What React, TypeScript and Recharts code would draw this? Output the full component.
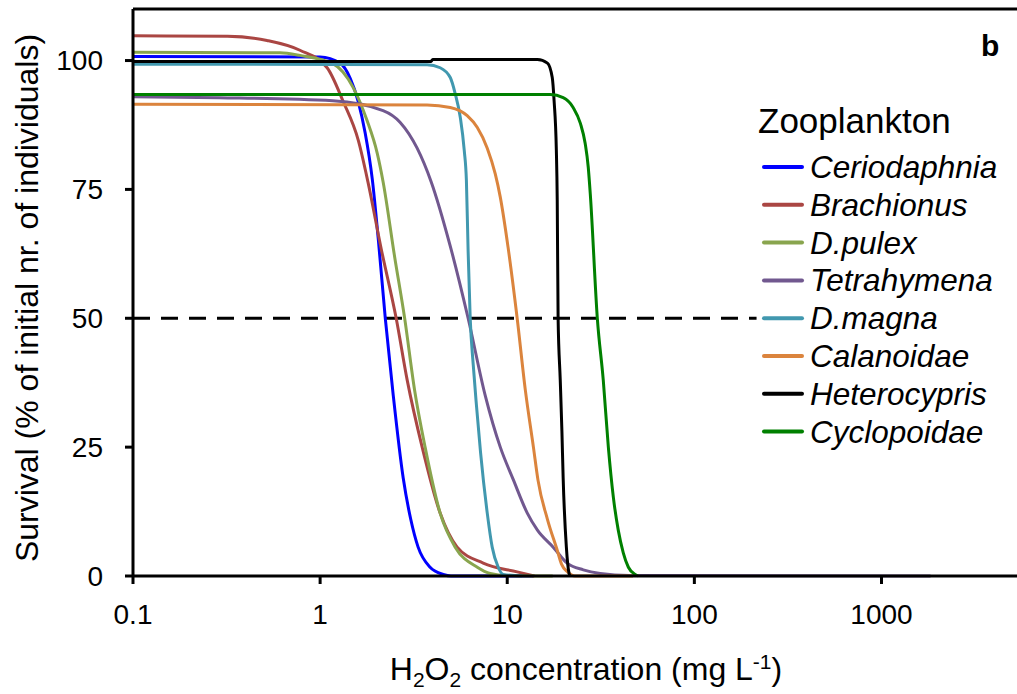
import React from "react";
import {
    LineChart,
    Line,
    XAxis,
    YAxis,
    ReferenceLine,
    Legend,
    Label,
} from "recharts";

const FONT = '"Liberation Sans", Arial, sans-serif';

// survival curves: [H2O2 mg/L, survival %]
const ceriodaphnia = [
    [0.1, 100.8], [1.0, 100.7], [1.28, 99.5], [1.45, 96.5], [1.6, 92],
    [1.74, 86], [1.9, 77], [2.05, 65], [2.23, 50], [2.46, 35], [2.78, 19],
    [3.05, 11], [3.34, 5.6], [3.87, 1.7], [4.55, 0.3], [5.0, 0], [13.8, 0],
];
const brachionus = [
    [0.1, 104.8], [0.32, 104.7], [0.52, 103.9], [0.78, 102], [1.09, 98.6],
    [1.33, 92], [1.6, 84.5], [1.8, 76.5], [2.12, 63.5], [2.55, 50],
    [2.92, 38], [3.51, 25], [4.38, 12.2], [5.4, 5.6], [7.44, 2.5],
    [11.3, 0.8], [14, 0],
];
const dPulex = [
    [0.1, 101.6], [0.61, 101.5], [0.78, 101], [1.17, 99.4], [1.5, 94.8],
    [1.78, 88.4], [2.02, 82], [2.17, 76.5], [2.5, 62], [2.83, 50],
    [3.2, 36], [3.64, 25], [4.38, 12.2], [5.27, 5.6], [6.92, 1.7],
    [8.11, 0.5], [10, 0.1], [17.5, 0],
];
const tetrahymena = [
    [0.1, 93], [0.29, 92.8], [1.17, 92.2], [2.17, 90.3], [2.68, 88],
    [3.3, 83], [3.92, 76.5], [4.96, 64], [6.18, 50], [7.63, 35],
    [9.18, 25], [10.8, 18.6], [12.8, 12.2], [14.5, 8.9], [17.6, 5.6],
    [20.9, 2.5], [25.5, 1.2], [31.4, 0.5], [45, 0.1], [1830, 0],
];
const dMagna = [
    [0.1, 99.3], [3.73, 99.2], [4.38, 98.6], [4.96, 96.7], [5.27, 93.6],
    [5.61, 89], [5.89, 82.6], [6.05, 76.7], [6.18, 63], [6.34, 50],
    [6.58, 41], [6.85, 33], [7.2, 24], [7.82, 12.2], [8.31, 5.6],
    [8.95, 1.7], [9.52, 0.3], [12, 0],
];
const calanoidae = [
    [0.1, 91.5], [3.73, 91.4], [4.96, 90.9], [6.11, 89.3], [6.92, 87],
    [7.82, 83], [8.63, 78], [9.18, 73.5], [10.1, 63.8], [11.3, 50],
    [12.5, 36], [13.8, 25], [14.6, 18.6], [16.4, 11], [18.5, 5],
    [19.5, 2.3], [21, 0.8], [23, 0], [47, 0],
];
const heterocypris = [
    [0.1, 99.8], [3.9, 99.8], [4.0, 100.2], [14.5, 100.2], [16.4, 99.5],
    [17.4, 96.7], [17.8, 92.2], [18.3, 82.6], [18.5, 73], [18.7, 50],
    [19.2, 38], [19.6, 28], [19.9, 19], [20.7, 5.6], [21.4, 0.5], [21.7, 0],
];
const cyclopoidae = [
    [0.1, 93.4], [17, 93.4], [19.9, 92.8], [22.5, 90.9], [24.6, 87.8],
    [26.1, 83.9], [27.1, 79.3], [27.8, 74], [30.3, 50], [32.6, 38],
    [34.7, 25], [36.9, 15.3], [39.2, 8.9], [41.7, 4.5], [44.4, 1.7],
    [48.3, 0.3], [50, 0],
];

// 50 % survival guide
const halfLine = [[0.1, 50], [215, 50]];

const X_TICKS = [0.1, 1, 10, 100, 1000];
const Y_TICKS = [0, 25, 50, 75, 100];

const SERIES = [
    { name: "Ceriodaphnia", color: "#0000FF", points: ceriodaphnia },
    { name: "Brachionus", color: "#AA4643", points: brachionus },
    { name: "D.pulex", color: "#89A54E", points: dPulex },
    { name: "Tetrahymena", color: "#71588F", points: tetrahymena },
    { name: "D.magna", color: "#4198AF", points: dMagna },
    { name: "Calanoidae", color: "#DB843D", points: calanoidae },
    { name: "Heterocypris", color: "#000000", points: heterocypris },
    { name: "Cyclopoidae", color: "#008000", points: cyclopoidae },
];

const toRows = (pts: number[][]) => pts.map(([x, y]) => ({ x, y }));

const ZooLegend = () => (
    <svg width={267} height={440} style={{ display: "block" }}>
        <text x={8} y={113} fontSize={35} fontFamily={FONT} fill="#000">
            Zooplankton
        </text>
        {SERIES.map((s, i) => {
            const cy = 147 + i * 37.8;
            return (
                <g key={s.name}>
                    <line
                        x1={14}
                        x2={52}
                        y1={cy}
                        y2={cy}
                        stroke={s.color}
                        strokeWidth={4}
                        strokeLinecap="round"
                    />
                    <text
                        x={60}
                        y={cy + 11}
                        fontSize={31.5}
                        fontStyle="italic"
                        fontFamily={FONT}
                        fill="#000"
                    >
                        {s.name}
                    </text>
                </g>
            );
        })}
        <text
            x={231}
            y={36}
            fontSize={30}
            fontWeight="bold"
            fontFamily={FONT}
            fill="#000"
        >
            b
        </text>
    </svg>
);

const XTitle = () => (
    <text
        x={586}
        y={680}
        textAnchor="middle"
        fontSize={32}
        fontFamily={FONT}
        fill="#000"
    >
        H<tspan dy={7} fontSize={21}>2</tspan>
        <tspan dy={-7}>O</tspan>
        <tspan dy={7} fontSize={21}>2</tspan>
        <tspan dy={-7}> concentration (mg L</tspan>
        <tspan dy={-11} fontSize={21}>-1</tspan>
        <tspan dy={11}>)</tspan>
    </text>
);

const YTitle = () => (
    <text
        x={0}
        y={0}
        transform="translate(38 298) rotate(-90)"
        textAnchor="middle"
        fontSize={32}
        fontFamily={FONT}
        fill="#000"
    >
        Survival (% of initial nr. of individuals)
    </text>
);

const axisLine = { stroke: "#000", strokeWidth: 3 };
const tickStyle = { fill: "#000", fontSize: 28, fontFamily: FONT };

export default function App() {
    return (
        <div
            style={{
                position: "absolute",
                left: 0,
                top: 0,
                width: 1017,
                height: 694,
                background: "#fff",
            }}
        >
            <LineChart
                width={1017}
                height={694}
                margin={{ top: 9, right: 0, bottom: 0, left: 0 }}
            >
                <XAxis
                    dataKey="x"
                    type="number"
                    scale="log"
                    domain={[0.1, 5300]}
                    allowDataOverflow
                    ticks={X_TICKS}
                    interval={0}
                    tickFormatter={(v: number) => String(v)}
                    height={118}
                    tickSize={8}
                    tickMargin={20}
                    axisLine={axisLine}
                    tickLine={axisLine}
                    tick={tickStyle}
                >
                    <Label content={<XTitle />} />
                </XAxis>
                <YAxis
                    type="number"
                    domain={[0, 110]}
                    ticks={Y_TICKS}
                    interval={0}
                    width={133}
                    tickSize={8}
                    tickMargin={22}
                    axisLine={axisLine}
                    tickLine={axisLine}
                    tick={tickStyle}
                >
                    <Label content={<YTitle />} />
                </YAxis>
                <ReferenceLine y={110} stroke="#000" strokeWidth={3} />
                <Line
                    data={toRows(halfLine)}
                    dataKey="y"
                    stroke="#000"
                    strokeWidth={3}
                    strokeDasharray="17 11"
                    dot={false}
                    legendType="none"
                    isAnimationActive={false}
                />
                {SERIES.map((s) => (
                    <Line
                        key={s.name}
                        name={s.name}
                        data={toRows(s.points)}
                        dataKey="y"
                        type="monotone"
                        stroke={s.color}
                        strokeWidth={3}
                        dot={false}
                        activeDot={false}
                        isAnimationActive={false}
                    />
                ))}
                <Legend
                    layout="horizontal"
                    verticalAlign="middle"
                    align="center"
                    wrapperStyle={{ left: 750, top: 20, width: 267, height: 440 }}
                    content={<ZooLegend />}
                />
            </LineChart>
        </div>
    );
}
